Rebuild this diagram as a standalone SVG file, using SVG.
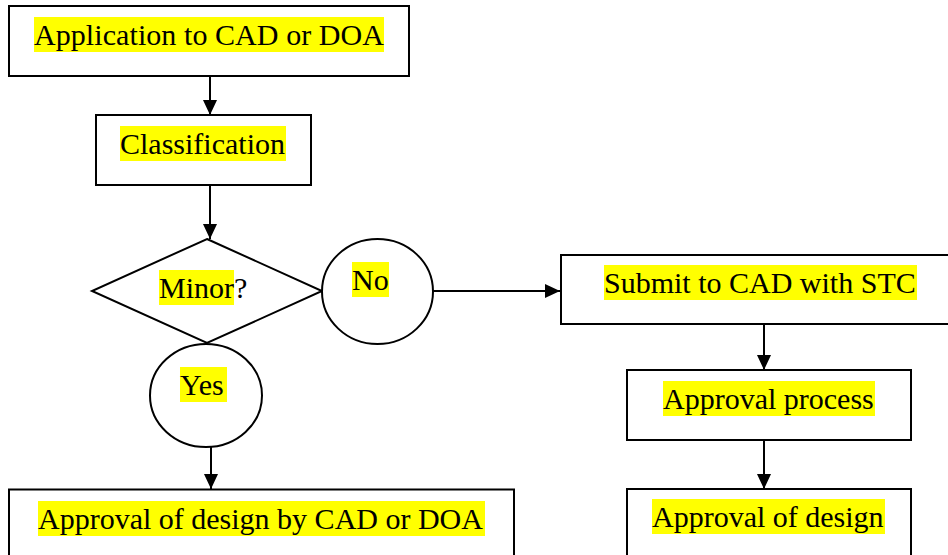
<svg xmlns="http://www.w3.org/2000/svg" width="948" height="555" viewBox="0 0 948 555">
<style>
.box{fill:#fff;stroke:#000;stroke-width:2}
.hl{fill:#ffff00}
.c{stroke:#000;stroke-width:2;fill:none;marker-end:url(#ah)}
</style>
<defs>
<marker id="ah" markerUnits="userSpaceOnUse" markerWidth="15" markerHeight="15" refX="15" refY="7" orient="auto">
<path d="M0,0 L15,7 L0,14 z" fill="#000"/>
</marker>
</defs>
<rect width="948" height="555" fill="#fff"/>
<g id="connectors">
<line class="c" x1="210" y1="76" x2="210" y2="115"/>
<line class="c" x1="210" y1="185" x2="210" y2="239"/>
<line class="c" x1="433" y1="291" x2="560" y2="291"/>
<line class="c" x1="211" y1="447" x2="211" y2="489"/>
<line class="c" x1="764" y1="324" x2="764" y2="370"/>
<line class="c" x1="764" y1="440" x2="764" y2="489"/>
</g>
<g font-family="Liberation Serif, serif" font-size="30" fill="#000">
<g id="application">
<rect class="box" x="9" y="6" width="400" height="70"/>
<rect class="hl" x="34" y="17" width="350" height="35"/>
<text x="34" y="45" textLength="350" lengthAdjust="spacing">Application to CAD or DOA</text>
</g>
<g id="classification">
<rect class="box" x="96" y="115" width="215" height="70"/>
<rect class="hl" x="120" y="126" width="166" height="35"/>
<text x="120" y="154">Classification</text>
</g>
<g id="minor">
<polygon class="box" points="207,239 322,291 207,343 92,291"/>
<rect class="hl" x="159" y="270" width="75" height="35"/>
<text x="159" y="298">Minor?</text>
</g>
<g id="no">
<ellipse class="box" cx="377.5" cy="291.5" rx="55.5" ry="52.5"/>
<rect class="hl" x="352" y="262" width="37" height="35"/>
<text x="352" y="290">No</text>
</g>
<g id="yes">
<ellipse class="box" cx="206" cy="395.5" rx="56" ry="51.5"/>
<rect class="hl" x="180" y="367" width="47" height="35"/>
<text x="180" y="395">Yes</text>
</g>
<g id="approval-cad-doa">
<rect class="box" x="9" y="489.5" width="505" height="80"/>
<rect class="hl" x="38" y="501" width="447" height="35"/>
<text x="38" y="529">Approval of design by CAD or DOA</text>
</g>
<g id="submit">
<rect class="box" x="561" y="255" width="400" height="69"/>
<rect class="hl" x="604" y="265" width="313" height="35"/>
<text x="604" y="293">Submit to CAD with STC</text>
</g>
<g id="approval-process">
<rect class="box" x="627" y="370" width="284" height="70"/>
<rect class="hl" x="663" y="381" width="212" height="35"/>
<text x="663" y="409">Approval process</text>
</g>
<g id="approval-design">
<rect class="box" x="627" y="489" width="284" height="80"/>
<rect class="hl" x="652" y="499" width="233" height="35"/>
<text x="652" y="527">Approval of design</text>
</g>
</g>
</svg>
